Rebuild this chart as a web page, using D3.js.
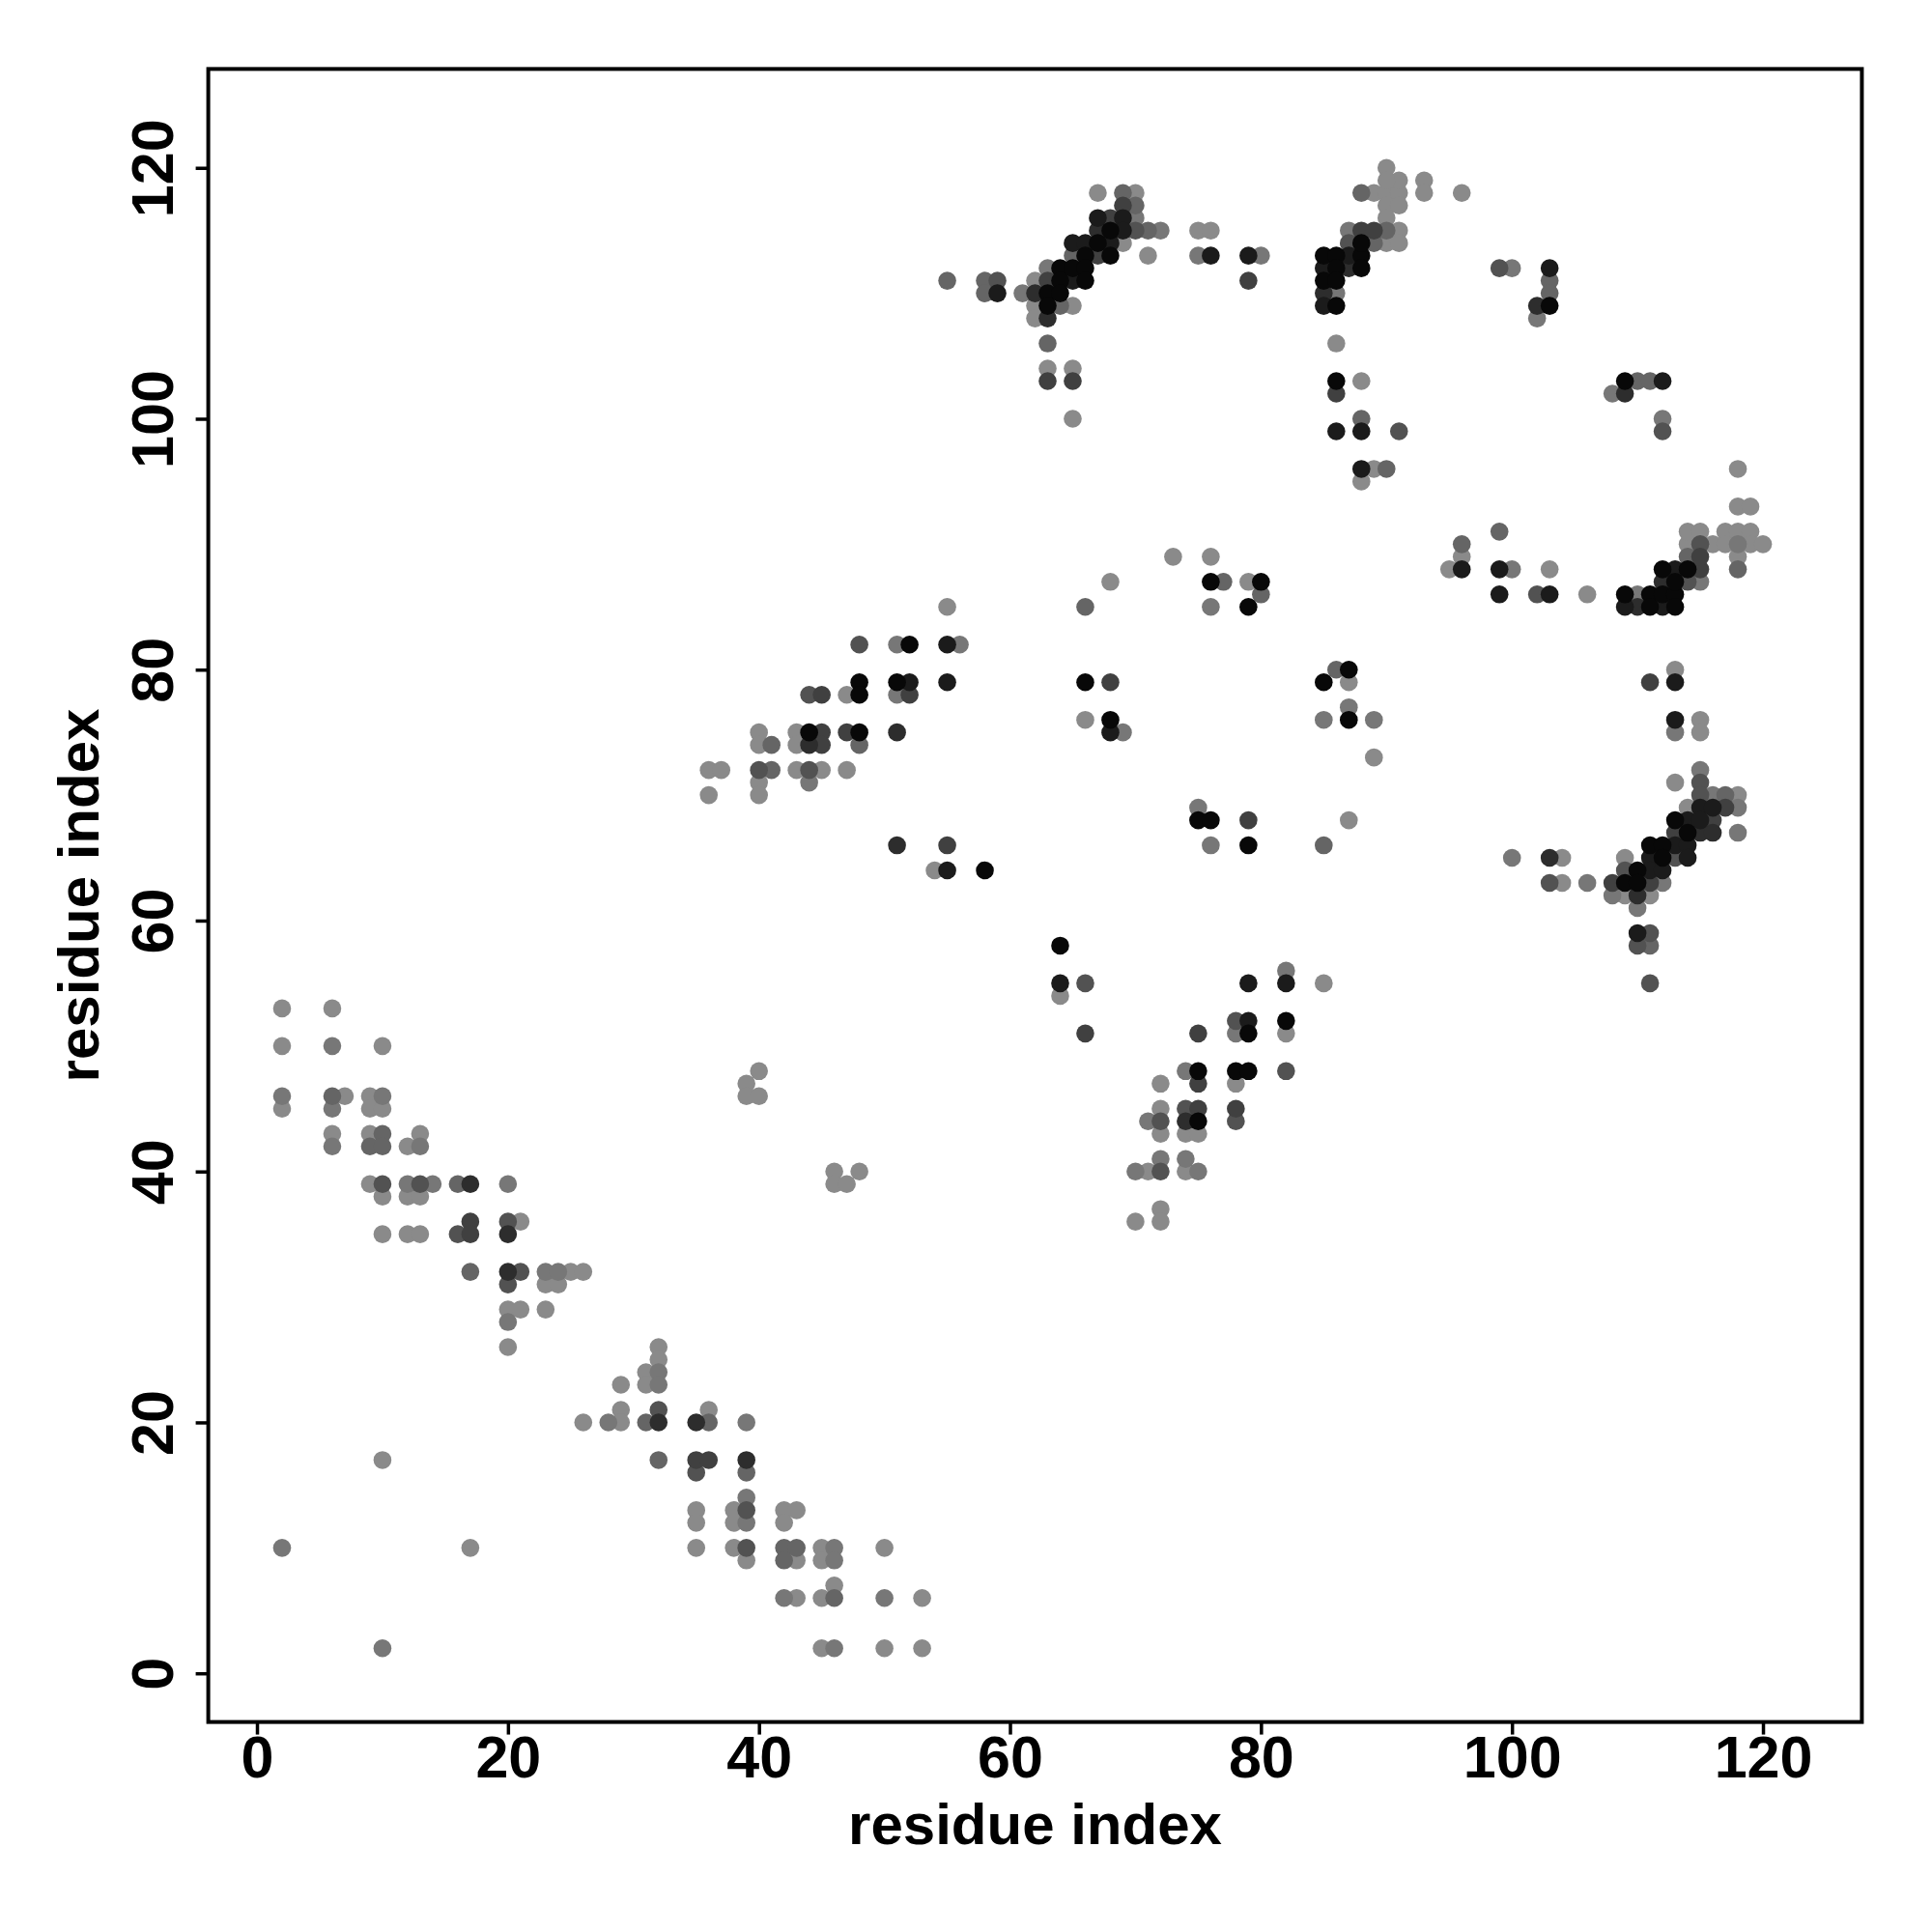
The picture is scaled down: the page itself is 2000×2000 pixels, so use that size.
<!DOCTYPE html>
<html>
<head>
<meta charset="utf-8">
<script src="https://cdn.jsdelivr.net/npm/d3@7"></script>
<style>
  html, body { margin: 0; padding: 0; background: #fff; }
  svg text { font-family: "Liberation Sans", Arial, Helvetica, sans-serif; font-weight: bold; fill: #000; }
</style>
</head>
<body>
<svg id="chart" width="2000" height="2000"></svg>
<script>
// ---- data: [i, j, strength level 1 (weak) .. 8 (strong)] ----
const contactsSheetA = [
  [2,53,1],[6,53,1],[2,50,1],[6,50,2],[10,50,1],
  [2,46,2],[2,45,1],[6,46,3],[7,46,1],[6,45,2],[9,46,1],[10,46,2],[9,45,1],[10,45,1],
  [6,43,1],[6,42,2],[9,43,1],[10,43,3],[9,42,3],[10,42,3],[13,43,1],[12,42,1],[13,42,2],
  [9,39,1],[10,39,4],[12,39,2],[13,39,4],[14,39,2],[16,39,3],[17,39,6],[20,39,2],
  [10,38,1],[12,38,1],[13,38,1],
  [17,36,5],[20,36,4],[21,36,1],
  [10,35,1],[12,35,1],[13,35,1],[16,35,4],[17,35,5],[20,35,6],
  [17,32,3],[20,32,6],[21,32,4],[23,32,2],[24,32,2],[25,32,1],[26,32,1],
  [20,31,4],[23,31,1],[24,31,1],
  [20,29,1],[21,29,1],[23,29,1],[20,28,2],[20,26,1]
];
const contactsSheetB = [
  [32,26,1],[32,25,1],[31,24,1],[32,24,2],[31,23,1],[32,23,2],[29,23,1],
  [29,21,1],[32,21,4],
  [26,20,1],[28,20,2],[29,20,1],[31,20,3],[32,20,6],
  [35,20,6],[36,21,1],[36,20,3],[39,20,2],
  [32,17,3],[35,17,5],[36,17,5],[35,16,4],[39,17,6],[39,16,3],
  [39,14,2],[39,13,4],[38,13,1],[38,12,1],[39,12,2],[35,13,1],[35,12,1],
  [42,13,1],[43,13,1],[42,12,1],
  [35,10,1],[38,10,1],[39,10,4],[39,9,1],
  [42,10,3],[43,10,3],[42,9,3],[43,9,1],
  [45,10,1],[46,10,2],[45,9,1],[46,9,2],[50,10,1],
  [46,7,1],
  [42,6,2],[43,6,1],[45,6,1],[46,6,3],[50,6,2],[53,6,1],
  [45,2,1],[46,2,2],[50,2,1],[53,2,1]
];
const contactsIsolated = [
  [10,17,1],[2,10,2],[17,10,1],[10,2,2],
  [40,48,1],[39,47,1],[39,46,1],[40,46,1],
  [46,40,1],[48,40,1],[46,39,1],[47,39,1]
];
const contactsHelixA = [
  [55,85,1],
  [48,82,4],[51,82,2],[52,82,8],[55,82,7],[56,82,2],
  [48,79,8],[48,78,8],[47,78,1],[51,79,8],[52,79,7],[51,78,2],[52,78,5],[55,79,7],
  [44,78,4],[45,78,5],
  [40,75,1],[43,75,1],[44,75,8],[45,75,5],[47,75,5],[48,75,8],[51,75,6],
  [40,74,1],[41,74,3],[43,74,1],[44,74,6],[45,74,5],[48,74,3],
  [36,72,1],[37,72,1],[40,72,4],[41,72,3],[43,72,1],[44,72,4],[45,72,1],[47,72,1],
  [40,71,1],[44,71,2],[36,70,1],[40,70,1],
  [51,66,6],[55,66,5],[54,64,1],[55,64,7],[58,64,8]
];
const contactsHelixB = [
  [55,111,3],[58,111,3],[59,111,4],[58,110,3],[59,110,7],[61,110,2],
  [62,111,1],[62,110,6],[62,109,1],[62,108,1],
  [63,112,2],[63,111,5],[63,110,8],[63,109,8],[63,108,6],
  [64,112,8],[64,111,8],[64,110,8],[64,109,3],[65,109,1],
  [65,114,7],[65,113,3],[65,112,8],[65,111,7],
  [66,114,7],[66,113,8],[66,112,8],[66,111,8],
  [67,116,7],[67,115,6],[67,114,8],[67,113,5],
  [68,116,5],[68,115,8],[68,114,7],[68,113,8],
  [67,118,1],[69,118,3],[70,118,1],[69,117,5],[70,117,3],[69,116,7],[70,116,2],
  [69,115,7],[70,115,4],[71,115,3],[72,115,2],[69,114,1],[71,113,1],
  [75,115,1],[76,115,1],[75,113,2],[76,113,7],[79,113,7],[80,113,2],[79,111,5],
  [63,106,3],[63,104,1],[65,104,1],[63,103,5],[65,103,5],[65,100,1]
];
const contactsHelixC = [
  [85,113,8],[86,113,8],[87,113,7],[88,113,8],
  [85,112,7],[86,112,8],[87,112,6],[88,112,8],
  [85,111,8],[86,111,8],[85,110,6],[86,110,2],[85,109,7],[86,109,8],
  [86,106,1],[86,103,8],[86,102,5],[88,103,1],
  [88,100,3],[86,99,7],[88,99,7],[91,99,4],
  [88,96,7],[89,96,1],[90,96,3],[88,95,1],
  [87,115,2],[88,115,5],[89,115,5],[90,115,3],[91,115,1],
  [87,114,4],[88,114,8],[89,114,3],[90,114,1],[91,114,1],
  [88,118,3],[89,118,1],[90,118,1],[91,118,1],
  [90,120,1],[91,119,1],[90,119,1],[90,117,1],[91,117,1],[90,116,1],
  [93,119,1],[93,118,1],[96,118,1],
  [99,112,4],[100,112,2],
  [103,112,7],[103,111,3],[103,110,3],[102,109,6],[103,109,8],[102,108,2],
  [109,103,8],[110,103,3],[111,103,3],[112,103,7],[108,102,2],[109,102,6],
  [112,100,2],[112,99,4],[118,96,1]
];
const contactsMiddle = [
  [73,89,1],[76,89,1],[68,87,1],
  [76,87,8],[77,87,3],[79,87,1],[80,87,8],[80,86,3],
  [66,85,3],[76,85,2],[79,85,8],
  [66,79,8],[68,79,5],[66,76,1],[68,76,8],[68,75,7],[69,75,2],
  [85,79,8],[86,80,3],[87,80,8],[87,79,1],
  [87,77,2],[85,76,2],[87,76,8],[89,76,2],[89,73,1],
  [75,69,2],[75,68,8],[76,68,8],[79,68,5],[87,68,1],
  [76,66,2],[79,66,8],[85,66,3]
];
const contactsRightUpper = [
  [118,93,1],[119,93,1],[99,91,3],
  [96,90,3],[96,89,1],[95,88,1],[96,88,7],
  [99,88,7],[100,88,2],[103,88,1],
  [99,86,7],[102,86,4],[103,86,7],[106,86,1],
  [109,86,8],[110,86,2],[111,86,8],[112,86,8],[113,86,8],
  [109,85,7],[110,85,6],[111,85,8],[112,85,7],[113,85,8],
  [112,88,8],[113,88,7],[114,88,8],[115,88,5],
  [112,87,6],[113,87,8],[114,87,4],[115,87,2],
  [114,89,3],[115,89,5],[114,90,1],[115,90,4],[114,91,1],[115,91,1],
  [116,90,1],[117,91,1],[117,90,1],[118,91,1],[118,90,2],[119,91,1],[119,90,1],[120,90,1],
  [118,89,1],[118,88,3],
  [113,80,1],[111,79,5],[113,79,7],
  [113,76,7],[113,75,2],[115,76,1],[115,75,1]
];
const contactsRightLower = [
  [115,72,2],[113,71,1],
  [115,71,4],[115,70,4],[116,70,2],[117,70,3],[118,70,1],
  [114,69,1],[115,69,7],[116,69,7],[117,69,5],[118,69,2],
  [113,68,8],[114,68,7],[115,68,7],[116,68,5],
  [113,67,5],[114,67,8],[115,67,6],[116,67,6],[118,67,2],
  [111,66,8],[112,66,8],[113,66,7],[114,66,7],
  [111,65,7],[112,65,8],[113,65,4],[114,65,7],[109,65,1],
  [109,64,4],[110,64,8],[111,64,7],[112,64,7],
  [108,63,5],[109,63,8],[110,63,8],[111,63,5],[112,63,2],
  [108,62,2],[109,62,1],[110,62,6],[111,62,1],[110,61,2],
  [110,59,7],[111,59,4],[110,58,4],[111,58,3],[111,55,4],
  [100,65,2],[103,65,6],[104,65,1],[103,63,4],[104,63,1],[106,63,2]
];
const contactsStrand = [
  [64,58,8],[64,55,7],[64,54,1],[66,55,4],[66,51,5],
  [79,55,7],[82,55,7],[82,56,2],[85,55,1],
  [78,52,4],[79,52,7],[78,51,2],[79,51,8],[82,52,8],[82,51,1],[75,51,5],
  [74,48,2],[75,48,8],[75,47,5],[78,48,8],[79,48,8],[78,47,1],[82,48,4],[72,47,1],
  [72,45,1],[72,44,4],[71,44,2],[72,43,1],
  [74,45,4],[75,45,5],[74,44,6],[75,44,8],[74,43,1],[75,43,1],
  [78,45,5],[78,44,4],[72,41,2],[74,41,2],
  [70,40,2],[71,40,1],[72,40,4],[74,40,1],[75,40,2],
  [72,37,1],[70,36,1],[72,36,1]
];
const xTicks = [0, 20, 40, 60, 80, 100, 120];
const yTicks = [0, 20, 40, 60, 80, 100, 120];
const xLabel = "residue index";
const yLabel = "residue index";
const residueRange = [1, 123];

// ---- layout ----
const box = { left: 215.6, right: 1927.4, top: 71.4, bottom: 1782.6 };
const pad = (residueRange[1] - residueRange[0]) * 0.04;

const x = d3.scaleLinear()
  .domain([residueRange[0] - pad, residueRange[1] + pad])
  .range([box.left, box.right]);
const y = d3.scaleLinear()
  .domain([residueRange[0] - pad, residueRange[1] + pad])
  .range([box.bottom, box.top]);
const shade = d3.scaleLinear().domain([1, 8]).range([138, 8]);

const points = [].concat(contactsSheetA, contactsSheetB, contactsIsolated, contactsHelixA,
  contactsHelixB, contactsHelixC, contactsMiddle, contactsRightUpper, contactsRightLower, contactsStrand)
  .map(d => ({ i: d[0], j: d[1], s: d[2] }))
  .sort((a, b) => a.s - b.s);

const svg = d3.select("#chart");

svg.append("g")
  .selectAll("circle")
  .data(points)
  .join("circle")
  .attr("cx", d => x(d.i))
  .attr("cy", d => y(d.j))
  .attr("r", 9.3)
  .attr("fill", d => { const g = Math.round(shade(d.s)); return `rgb(${g},${g},${g})`; });

// frame
svg.append("rect")
  .attr("x", box.left).attr("y", box.top)
  .attr("width", box.right - box.left).attr("height", box.bottom - box.top)
  .attr("fill", "none").attr("stroke", "#000").attr("stroke-width", 4);

// x axis
const xAxis = d3.axisBottom(x).tickValues(xTicks).tickSize(13).tickPadding(12).tickFormat(d3.format("d"));
const gx = svg.append("g").attr("transform", `translate(0,${box.bottom})`).call(xAxis);
gx.select(".domain").remove();
gx.selectAll(".tick line").attr("stroke", "#000").attr("stroke-width", 3.5);
gx.selectAll(".tick text").attr("font-size", 61).attr("dy", "0.71em")
  .attr("y", 14).style("font-family", '"Liberation Sans", Arial, sans-serif').style("font-weight", "bold");

// y axis
const yAxis = d3.axisLeft(y).tickValues(yTicks).tickSize(13).tickFormat(d3.format("d"));
const gy = svg.append("g").attr("transform", `translate(${box.left},0)`).call(yAxis);
gy.select(".domain").remove();
gy.selectAll(".tick line").attr("stroke", "#000").attr("stroke-width", 3.5);
gy.selectAll(".tick text")
  .attr("x", null).attr("dy", null)
  .attr("text-anchor", "middle")
  .attr("font-size", 61)
  .attr("transform", "translate(-37,0) rotate(-90)")
  .style("font-family", '"Liberation Sans", Arial, sans-serif').style("font-weight", "bold");

// axis titles
svg.append("text")
  .attr("x", (box.left + box.right) / 2).attr("y", 1909)
  .attr("text-anchor", "middle").attr("font-size", 60)
  .text(xLabel);
svg.append("text")
  .attr("transform", `translate(102,${(box.top + box.bottom) / 2}) rotate(-90)`)
  .attr("text-anchor", "middle").attr("font-size", 60)
  .text(yLabel);
</script>
</body>
</html>
